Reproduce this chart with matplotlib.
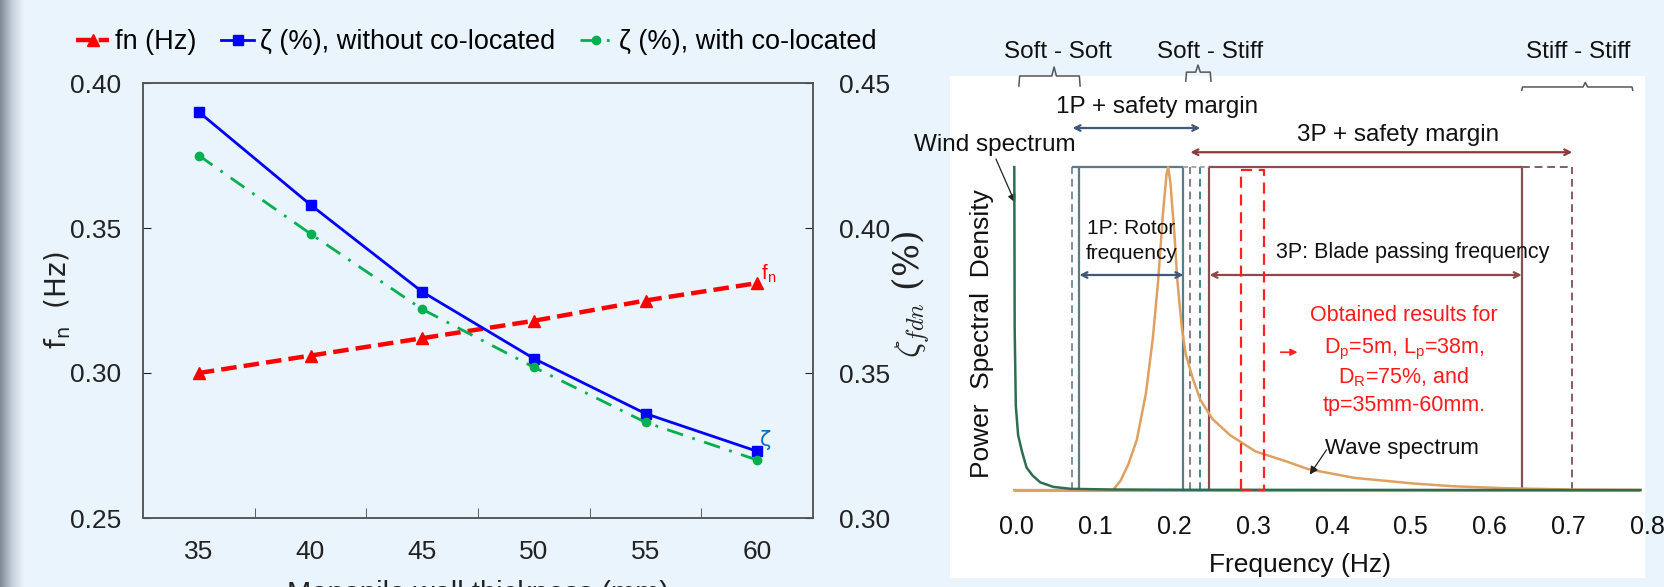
import matplotlib.pyplot as plt
import numpy as np
from matplotlib import font_manager
from matplotlib.colors import LinearSegmentedColormap

# Данные левого графика
thickness = [35, 40, 45, 50, 55, 60]
fn_hz = [0.300, 0.306, 0.312, 0.318, 0.325, 0.331]
zeta_without = [0.440, 0.408, 0.378, 0.355, 0.336, 0.323]
zeta_with = [0.425, 0.398, 0.372, 0.352, 0.333, 0.320]

# Спектры (правая схема)
wind_f = [-0.024, -0.0235, -0.022, -0.019, -0.014, -0.008, 0.0, 0.01, 0.027, 0.05, 0.1, 0.2, 0.794]
wind_psd = [1.0, 0.5, 0.26, 0.17, 0.12, 0.07, 0.045, 0.024, 0.01, 0.004, 0.002, 0.001, 0.0]
wave_f = [-0.024, 0.105, 0.115, 0.125, 0.136, 0.148, 0.157, 0.164, 0.170, 0.175, 0.177, 0.180,
          0.185, 0.189, 0.195, 0.200, 0.210, 0.219, 0.235, 0.258, 0.291, 0.330, 0.360, 0.420,
          0.500, 0.550, 0.617, 0.700, 0.794]
wave_psd = [0.0, 0.0, 0.03, 0.08, 0.155, 0.30, 0.47, 0.65, 0.85, 0.98, 1.0, 0.95,
            0.80, 0.65, 0.50, 0.42, 0.34, 0.28, 0.22, 0.17, 0.12, 0.09, 0.065, 0.038,
            0.02, 0.012, 0.006, 0.002, 0.001]
freq_ticks = [0.0, 0.1, 0.2, 0.3, 0.4, 0.5, 0.6, 0.7, 0.8]

# Границы диапазонов 1P и 3P
p1_margin = [0.052, 0.219]
p1_range = [0.061, 0.197]
p3_margin = [0.206, 0.705]
p3_range = [0.231, 0.639]
results_band = [0.272, 0.302]

names = {f.name for f in font_manager.fontManager.ttflist}
narrow = 'Liberation Sans Narrow' if 'Liberation Sans Narrow' in names else 'Liberation Sans'
plt.rcParams['font.family'] = [narrow, 'DejaVu Sans']

bg = '#EAF4FD'
fig = plt.figure(figsize=(16.64, 5.87), dpi=100, facecolor=bg)

# серая полоса слева
strip = fig.add_axes([0, 0, 24 / 1664, 1])
strip.imshow(np.linspace(0, 1, 60)[None, :], aspect='auto',
             cmap=LinearSegmentedColormap.from_list('s', ['#7E8996', '#C5CEDA', bg]))
strip.axis('off')

# ---------- Левый график ----------
ax = fig.add_axes([143 / 1664, 69 / 587, 670 / 1664, 435 / 587])
ax.set_facecolor('none')
ax2 = ax.twinx()

l1, = ax.plot(thickness, fn_hz, color='#FF0000', ls=(0, (3.5, 1.6)), lw=3.2,
              marker='^', ms=8, label='fn (Hz)')
l2, = ax2.plot(thickness, zeta_without, color='#0000FF', lw=2, marker='s', ms=7,
               label='ζ (%), without co-located')
l3, = ax2.plot(thickness, zeta_with, color='#00B050', lw=2, ls=(0, (6, 3.5, 1, 3.5)),
               marker='o', ms=6, label='ζ (%), with co-located')

ax.set_xlim(32.5, 62.5)
ax.set_ylim(0.25, 0.40)
ax2.set_ylim(0.30, 0.45)
ax.set_yticks([0.25, 0.30, 0.35, 0.40])
ax2.set_yticks([0.30, 0.35, 0.40, 0.45])
ax.set_yticklabels(['0.25', '0.30', '0.35', '0.40'])
ax2.set_yticklabels(['0.30', '0.35', '0.40', '0.45'])
ax.set_xticks(thickness)
ax.set_xticklabels([str(t) for t in thickness])
ax.set_xticks([37.5, 42.5, 47.5, 52.5, 57.5], minor=True)
ax.tick_params(axis='x', which='major', length=0, pad=16, labelsize=19, colors='#222222')
ax.tick_params(axis='x', which='minor', direction='in', length=7, color='#444444')
ax.tick_params(axis='y', direction='in', length=6, pad=16, labelsize=19, colors='#222222')
ax2.tick_params(axis='y', direction='in', length=6, pad=19, labelsize=19, colors='#222222')
for a in (ax, ax2):
    for s in a.spines.values():
        s.set_color('#555555')
        s.set_linewidth(1.1)

ax.text(60.15, 0.3305, 'f$_\\mathregular{n}$', color='#FF0000', fontsize=15, va='bottom')
ax2.text(60.1, 0.3235, 'ζ', color='#0070C0', fontsize=15, va='bottom', family='DejaVu Sans')

fig.legend(handles=[l1, l2, l3], loc='center', bbox_to_anchor=(476 / 1664, 1 - 42 / 587),
           ncol=3, frameon=False, fontsize=19.5, handlelength=1.25, handletextpad=0.2,
           columnspacing=0.9)

fig.text(58 / 1664, 1 - 300 / 587, 'f$_\\mathregular{n}$  (Hz)', rotation=90, ha='center',
         va='center', fontsize=20, family='DejaVu Sans', color='#222222')
fig.text(911 / 1664, 1 - 295 / 587, '$\\zeta_{fdn}$ (%)', rotation=90, ha='center',
         va='center', fontsize=25, family='DejaVu Serif', math_fontfamily='cm', color='#222222')
fig.text(478 / 1664, 1 - 594 / 587, 'Monopile wall thickness (mm)', ha='center',
         va='center', fontsize=21, color='#222222')

# ---------- Правая схема ----------
bx = fig.add_axes([950 / 1664, 9 / 587, 695 / 1664, 502 / 587])
bx.set_facecolor('white')
bx.set_xlim(-0.108, 0.80)
bx.set_ylim(-0.272, 1.282)
bx.set_xticks([])
bx.set_yticks([])
for s in bx.spines.values():
    s.set_visible(False)

gray = '#5A7C86'
brown = '#8A4E52'
# рамки диапазонов
bx.vlines(p1_margin[0], 0, 1, color='#7C90A4', ls=(0, (4, 2.5)), lw=1.4)
bx.vlines(p1_range, 0, 1, color=gray, lw=1.6)
bx.vlines(p3_margin[0], 0, 1, color='#8E7C88', ls=(0, (4, 2.5)), lw=1.4)
bx.vlines(p1_margin[1], 0, 1, color='#3E8A8E', ls=(0, (4, 2.5)), lw=1.4)
bx.vlines(p3_range, 0, 1, color=brown, lw=1.6)
bx.vlines(p3_margin[1], 0, 1, color='#8A5A5E', ls=(0, (4, 2.5)), lw=1.4)
bx.hlines(1, p1_margin[0], p1_range[1], color=gray, lw=1.6)
bx.hlines(1, p1_range[1], p3_range[0], color='#9A9AA8', lw=1.2, ls=(0, (3, 2)))
bx.hlines(1, p3_range[0], p3_range[1], color=brown, lw=1.6)
bx.hlines(1, p3_range[1], p3_margin[1], color='#8A5A5E', lw=1.4, ls=(0, (4, 2.5)))

# спектры
bx.plot(wave_f, wave_psd, color='#E0A060', lw=1.8, zorder=3)
bx.plot(wind_f, wind_psd, color='#2E6E50', lw=1.8, zorder=4)
bx.hlines(0, -0.024, 0.794, color='#E0A060', lw=2.2, zorder=2)

# красная пунктирная рамка
bx.plot([results_band[0], results_band[0], results_band[1], results_band[1], results_band[0]],
        [0, 0.99, 0.99, 0, 0], color='#FF2020', lw=1.6, ls=(0, (5, 3)), zorder=5)

# стрелки диапазонов
arrow = dict(arrowstyle='<->', lw=1.6, shrinkA=0, shrinkB=0)
bx.annotate('', xy=(p1_margin[0], 1.121), xytext=(p1_margin[1], 1.121),
            arrowprops=dict(arrow, color='#3E5A78'), annotation_clip=False)
bx.annotate('', xy=(p3_margin[0], 1.046), xytext=(p3_margin[1], 1.046),
            arrowprops=dict(arrow, color='#8B3A3A'), annotation_clip=False)
bx.annotate('', xy=(p1_range[0], 0.666), xytext=(p1_range[1], 0.666),
            arrowprops=dict(arrow, color='#3E5A78'))
bx.annotate('', xy=(p3_range[0], 0.666), xytext=(p3_range[1], 0.666),
            arrowprops=dict(arrow, color='#8B4A4A'))

tx = dict(ha='center', va='center', color='#111111', fontsize=17.5)
bx.text(0.163, 1.186, '1P + safety margin', clip_on=False, **tx)
bx.text(0.477, 1.099, '3P + safety margin', clip_on=False, **tx)
tin = dict(tx, fontsize=15)
bx.text(0.129, 0.811, '1P: Rotor', **tin)
bx.text(0.129, 0.734, 'frequency', **tin)
bx.text(0.497, 0.737, '3P: Blade passing frequency', **dict(tx, fontsize=15.5))

# скобки режимов
bc = dict(color='#555555', lw=1.1, clip_on=False)
bx.plot([-0.018, -0.017, 0.025, 0.028, 0.031, 0.061, 0.062],
        [1.251, 1.282, 1.282, 1.31, 1.282, 1.282, 1.251], **bc)
bx.plot([0.200, 0.201, 0.213, 0.216, 0.219, 0.232, 0.233],
        [1.266, 1.294, 1.294, 1.316, 1.294, 1.294, 1.266], **bc)
bx.plot([0.639, 0.640, 0.719, 0.722, 0.725, 0.783, 0.784],
        [1.238, 1.248, 1.248, 1.262, 1.248, 1.248, 1.238], **bc)
bx.text(0.033, 1.356, 'Soft - Soft', clip_on=False, **tx)
bx.text(0.232, 1.356, 'Soft - Stiff', clip_on=False, **tx)
bx.text(0.713, 1.356, 'Stiff - Stiff', clip_on=False, **tx)

bx.text(-0.049, 1.068, 'Wind spectrum', clip_on=False, **tx)
bx.annotate('', xy=(-0.023, 0.89), xytext=(-0.048, 1.025), annotation_clip=False,
            arrowprops=dict(arrowstyle='-|>', color='#222222', lw=0.9, shrinkA=0, shrinkB=0,
                            mutation_scale=12))
bx.text(0.483, 0.13, 'Wave spectrum', **dict(tx, fontsize=16))
bx.annotate('', xy=(0.362, 0.048), xytext=(0.384, 0.125),
            arrowprops=dict(arrowstyle='-|>', color='#222222', lw=0.9, shrinkA=0, shrinkB=0,
                            mutation_scale=12))

bx.annotate('', xy=(0.346, 0.427), xytext=(0.324, 0.427),
            arrowprops=dict(arrowstyle='-|>', color='#FF2020', lw=1.2, mutation_scale=10,
                            shrinkA=0, shrinkB=0))
rtx = dict(ha='center', va='center', color='#FF1A1A', fontsize=15.5)
bx.text(0.485, 0.542, 'Obtained results for', **rtx)
bx.text(0.485, 0.435, 'D$_\\mathregular{p}$=5m, L$_\\mathregular{p}$=38m,', **rtx)
bx.text(0.485, 0.350, 'D$_\\mathregular{R}$=75%, and', **rtx)
bx.text(0.485, 0.262, 'tp=35mm-60mm.', **rtx)

for f in freq_ticks:
    bx.text(-0.021 + 1.03 * f, -0.115, f'{f:.1f}', ha='center', va='center', fontsize=18,
            color='#111111')
bx.text(0.349, -0.232, 'Frequency (Hz)', ha='center', va='center', fontsize=19,
        color='#111111')
bx.text(-0.066, 0.486, 'Power  Spectral  Density', rotation=90, ha='center', va='center',
        fontsize=19, family='Liberation Sans', color='#111111')

plt.savefig('out.png', dpi=100, facecolor=bg)
